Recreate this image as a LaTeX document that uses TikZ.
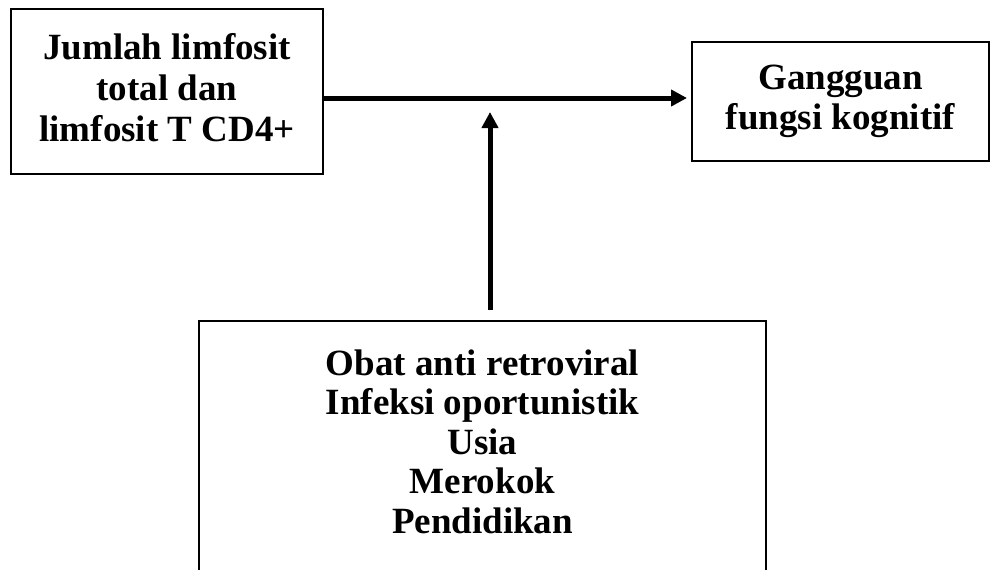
\documentclass[tikz,border=0pt]{standalone}
\usepackage{fontspec}
\setmainfont{Liberation Serif}
\usetikzlibrary{arrows.meta}
\tikzset{
  box/.style={draw=black, line width=2pt, inner sep=0pt, align=center,
    font=\fontsize{37}{41}\selectfont\bfseries},
  conn/.style={line width=5pt, -{Triangle[length=16pt,width=16pt]}}
}
\begin{document}
\begin{tikzpicture}[x=1pt,y=-1pt]
\useasboundingbox (0,0) rectangle (991,570);
\clip (0,0) rectangle (991,570);
\node[box, minimum width=312pt, minimum height=165pt, text depth=9pt] (b1) at (167,91.5)
  {Jumlah limfosit\\total dan\\limfosit T CD4+};
\node[box, minimum width=297pt, minimum height=119pt,
  font=\fontsize{37}{40}\selectfont\bfseries] (b2) at (840.5,101.5)
  {Gangguan\\fungsi kognitif};
\node[box, minimum width=567pt, minimum height=270pt, text depth=29pt, anchor=north,
  font=\fontsize{37}{39.5}\selectfont\bfseries] (b3) at (482.5,320)
  {Obat anti retroviral\\Infeksi oportunistik\\Usia\\Merokok\\Pendidikan};
\coordinate (m) at (490,112);
\draw[conn] (b1.east |- 0,98) -- ([xshift=-4pt]b2.west |- 0,98);
\draw[conn] ([yshift=10pt]b3.north -| m) -- (m);
\end{tikzpicture}
\end{document}
